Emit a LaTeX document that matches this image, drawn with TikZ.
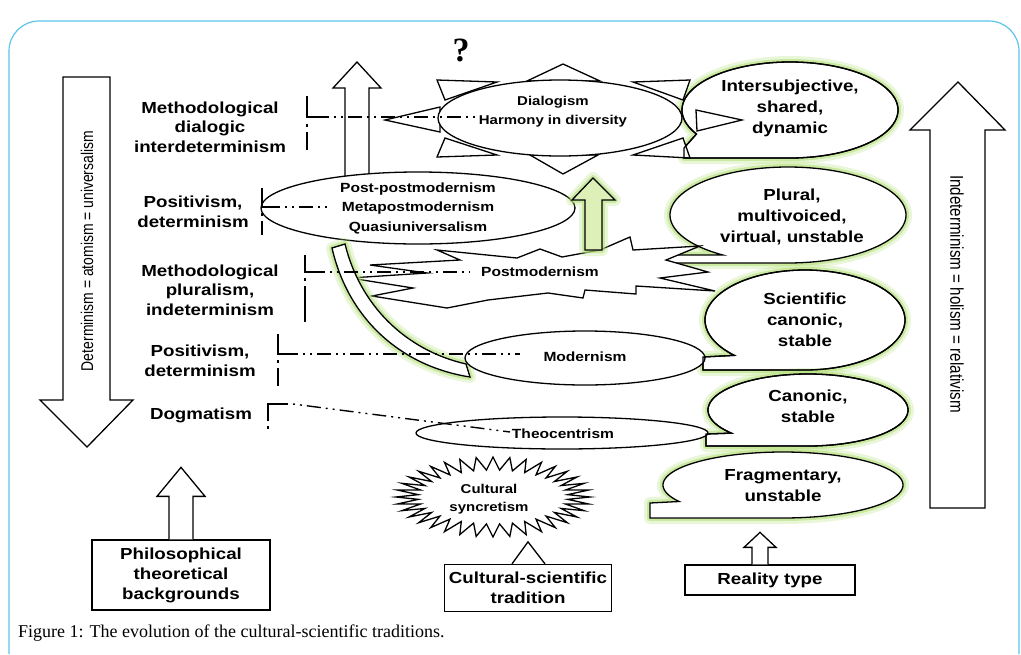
\documentclass[tikz,border=0pt]{standalone}
\usepackage{fontspec}
\setmainfont{Liberation Serif}
\newfontfamily\lab[FakeStretch=1.17]{Liberation Sans}
\newfontfamily\narr[FakeStretch=0.82]{Liberation Sans}
\usetikzlibrary{calc}
\definecolor{frameblue}{HTML}{5BC5EA}
\definecolor{glow}{HTML}{B5E07A}
\definecolor{arrowgreen}{HTML}{DDF0B8}
\tikzset{
 ln/.style={draw=black, line width=1.3pt, line join=miter},
 shapefill/.style={ln, fill=white},
 glowA/.style={draw=glow, line width=12pt, opacity=0.28, line join=round},
 glowB/.style={draw=glow, line width=6pt, opacity=0.6, line join=round},
 lbl/.style={font=\lab\bfseries\fontsize{16}{19.5}\selectfont, align=center, inner sep=0pt},
 rlbl/.style={font=\lab\bfseries\fontsize{16}{21}\selectfont, align=center, inner sep=0pt},
 ctr/.style={font=\lab\bfseries\fontsize{13.3}{19.5}\selectfont, align=center, inner sep=0pt},
 smallc/.style={font=\lab\bfseries\fontsize{12.8}{18}\selectfont, align=center, inner sep=0pt},
 vert/.style={font=\narr\fontsize{17}{18}\selectfont, inner sep=0pt},
 dd/.style={line width=1.4pt, dash pattern=on 2pt off 5pt on 2pt off 5pt on 14pt off 5pt},
 boxst/.style={ln, fill=white, font=\lab\bfseries\fontsize{16}{20}\selectfont, align=center, inner sep=0pt},
}
% bubble: style, cx, cy, rx, ry, start angle, tip x, tip y
\newcommand\bubble[8]{\path[#1] plot[domain=#6:450,samples=120,variable=\t] ({#2+#4*cos(\t)},{#3+#5*sin(\t)}) -- (#7,{#3+#5}) -- (#7,#8) -- cycle;}
\newcommand\gbub[7]{\bubble{glowA}{#1}{#2}{#3}{#4}{#5}{#6}{#7}\bubble{glowB}{#1}{#2}{#3}{#4}{#5}{#6}{#7}\bubble{shapefill}{#1}{#2}{#3}{#4}{#5}{#6}{#7}}
\begin{document}
\begin{tikzpicture}[x=1pt,y=-1pt]
\useasboundingbox (0,0) rectangle (1021,654);
% frame
\draw[frameblue, line width=1.2pt, rounded corners=30pt] (9,654) -- (9,21) -- (1019,21) -- (1019,654);
\node[anchor=base west, inner sep=0pt, font=\fontsize{18}{20}\selectfont] (cap) at (18,637) {Figure 1: The evolution of the cultural-scientific traditions.};

% big arrows
\draw[shapefill] (63,77) -- (110,77) -- (110,400) -- (133,400) -- (87,447) -- (40,400) -- (63,400) -- cycle;
\node[vert, rotate=90] (dtxt) at (87,251) {Determinism = atomism = universalism};
\draw[shapefill] (930,508) -- (985,508) -- (985,130) -- (1005,130) -- (958,82) -- (910,130) -- (930,130) -- cycle;
\node[vert, rotate=-90, font=\narr\fontsize{18.5}{19}\selectfont] (itxt) at (957,294) {Indeterminism = holism = relativism};

% left labels
\node[lbl] (l1) at (210,127) {Methodological\\dialogic\\interdeterminism};
\node[lbl] (l2) at (193,212) {Positivism,\\determinism};
\node[lbl] (l3) at (210,290) {Methodological\\pluralism,\\indeterminism};
\node[lbl] (l4) at (200,361) {Positivism,\\determinism};
\node[lbl] (l5) at (201,415) {Dogmatism};

% right bubbles
\gbub{790}{110}{108}{48}{150}{684}{148}
\gbub{788}{215}{118}{48}{123.6}{667}{255}
\gbub{805}{320}{100}{50}{135}{703}{357}
\gbub{808}{410}{100}{36}{140}{706}{434}
\gbub{783}{485}{120}{33}{150}{650}{503}

% dialogism sun
\draw[shapefill] (527,81) -- (563,64) -- (600,81) -- cycle;
\draw[shapefill] (530,155) -- (563,174) -- (598,155) -- cycle;
\draw[shapefill] (440,107) -- (385,120) -- (440,132) -- cycle;
\draw[shapefill] (437,80) -- (497,82) -- (445,100) -- cycle;
\draw[shapefill] (437,157) -- (497,155) -- (445,138) -- cycle;
\draw[shapefill] (633,82) -- (690,80) -- (683,100) -- cycle;
\draw[shapefill] (633,155) -- (690,158) -- (683,138) -- cycle;
\draw[shapefill] (696,110) -- (742,120) -- (697,131) -- cycle;
% white up arrow
\draw[shapefill] (345,180) -- (345,88) -- (333,88) -- (357,62) -- (381,88) -- (369,88) -- (369,180) -- cycle;
\draw[shapefill] (560,118) ellipse [x radius=122, y radius=38];

% post-postmodernism
\draw[shapefill] (418,208) ellipse [x radius=157, y radius=36];

% postmodernism
\draw[shapefill] (437,250) -- (517,258) -- (540,249) -- (562,257) -- (600,250) -- (630,237) -- (633,250) -- (700,246) -- (666,260) -- (708,272) -- (660,278) -- (715,291) -- (636,286) -- (636,294) -- (585,290) -- (583,298) -- (548,293) -- (488,300) -- (447,308) -- (372,296) -- (413,288) -- (350,278) -- (427,273) -- (370,265) -- (460,260) -- cycle;

% green arrow
\path[glowA] (585,250) -- (585,200) -- (572,200) -- (593,178) -- (615,200) -- (602,200) -- (602,250) -- cycle;
\path[glowB] (585,250) -- (585,200) -- (572,200) -- (593,178) -- (615,200) -- (602,200) -- (602,250) -- cycle;
\draw[ln, fill=arrowgreen] (585,250) -- (585,200) -- (572,200) -- (593,178) -- (615,200) -- (602,200) -- (602,250) -- cycle;

% curved band
\path[glowA] (332,248) -- (345,244) .. controls (360,305) and (405,350) .. (466,364) -- (470,377) .. controls (400,366) and (348,318) .. (332,248) -- cycle;
\path[glowB] (332,248) -- (345,244) .. controls (360,305) and (405,350) .. (466,364) -- (470,377) .. controls (400,366) and (348,318) .. (332,248) -- cycle;
\draw[shapefill] (332,248) -- (345,244) .. controls (360,305) and (405,350) .. (466,364) -- (470,377) .. controls (400,366) and (348,318) .. (332,248) -- cycle;

% modernism, theocentrism
\draw[shapefill] (585,358) ellipse [x radius=120, y radius=27];
\draw[shapefill] (562,433) ellipse [x radius=146, y radius=16];

% cultural syncretism burst
\draw[shapefill] plot[domain=0:71, samples=72, variable=\k] ({493+(97-22*mod(\k,2))*cos(5*\k)},{497+(40-13*mod(\k,2))*sin(5*\k)}) -- cycle;

% bubble outlines redrawn
\bubble{ln}{790}{110}{108}{48}{150}{684}{148}
\bubble{ln}{805}{320}{100}{50}{135}{703}{357}
\bubble{ln}{808}{410}{100}{36}{140}{706}{434}

% center texts
\node[ctr, font=\lab\bfseries\fontsize{12.8}{19}\selectfont] (dial) at (553,112) {Dialogism\\Harmony in diversity};
\node[ctr] (ppm) at (418,208) {Post-postmodernism\\Metapostmodernism\\Quasiuniversalism};
\node[ctr] (pm) at (540,272) {Postmodernism};
\node[ctr] (mod) at (585,357) {Modernism};
\node[ctr] (theo) at (563,434) {Theocentrism};
\node[smallc] (cs) at (489,499) {Cultural\\syncretism};

% right texts
\node[rlbl] (r1) at (790,108) {Intersubjective,\\shared,\\dynamic};
\node[rlbl] (r2) at (792,217) {Plural,\\multivoiced,\\virtual, unstable};
\node[rlbl] (r3) at (805,320) {Scientific\\canonic,\\stable};
\node[rlbl] (r4) at (808,406) {Canonic,\\stable};
\node[rlbl] (r5) at (783,486) {Fragmentary,\\unstable};

% brackets and dash-dot connectors
\coordinate (b1) at (307,117); \coordinate (e1) at (478,117);
\draw[ln] (307,96) -- (b1) -- ++(22,0);
\draw[ln] (307,124) -- (307,127); \draw[ln] (307,132) -- (307,150);
\draw[dd] ($(b1)+(27,0)$) -- (e1);

\coordinate (b2) at (262,207); \coordinate (e2) at (330,207);
\draw[ln] (262,188) -- (b2) -- ++(18,0);
\draw[ln] (262,213) -- (262,216); \draw[ln] (262,221) -- (262,235);
\draw[dd] ($(b2)+(23,0)$) -- (e2);

\coordinate (b3) at (305,272); \coordinate (e3) at (470,272);
\draw[ln] (305,255) -- (b3) -- ++(20,0);
\draw[ln] (305,278) -- (305,281); \draw[ln] (305,286) -- (305,322);
\draw[dd] ($(b3)+(25,0)$) -- (e3);

\coordinate (b4) at (278,354); \coordinate (e4) at (520,354);
\draw[ln] (278,334) -- (b4) -- ++(20,0);
\draw[ln] (278,360) -- (278,363); \draw[ln] (278,368) -- (278,386);
\draw[dd] ($(b4)+(25,0)$) -- (e4);

\coordinate (b5) at (268,404); \coordinate (e5) at (510,432);
\draw[ln] (268,421) -- (b5) -- ++(20,0);
\draw[ln] (268,426) -- (268,429);
\draw[dd] ($(b5)+(25,0)$) -- (e5);

% question mark
\node[font=\bfseries\fontsize{34}{34}\selectfont, inner sep=0pt] (q) at (461,50) {?};

% bottom boxes
\node[boxst, minimum width=178, minimum height=70] (phil) at (181,575) {Philosophical\\theoretical\\backgrounds};
\draw[shapefill] ($(phil.north)+(-12,0)$) -- ($(phil.north)+(-12,-43)$) -- ($(phil.north)+(-24,-43)$) -- ($(phil.north)+(0,-72)$) -- ($(phil.north)+(24,-43)$) -- ($(phil.north)+(12,-43)$) -- ($(phil.north)+(12,0)$);
\node[boxst, minimum width=167, minimum height=47] (cst) at (528,588) {Cultural-scientific\\tradition};
\draw[shapefill] ($(cst.north)+(-16,0)$) -- ($(cst.north)+(0,-22)$) -- ($(cst.north)+(17,0)$);
\node[boxst, minimum width=170, minimum height=30] (rt) at (770,580) {Reality type};
\draw[shapefill] ($(rt.north)+(-18,0)$) -- ($(rt.north)+(-18,-17)$) -- ($(rt.north)+(-26,-17)$) -- ($(rt.north)+(-10,-32)$) -- ($(rt.north)+(6,-17)$) -- ($(rt.north)+(-2,-17)$) -- ($(rt.north)+(-2,0)$);
\end{tikzpicture}
\end{document}
